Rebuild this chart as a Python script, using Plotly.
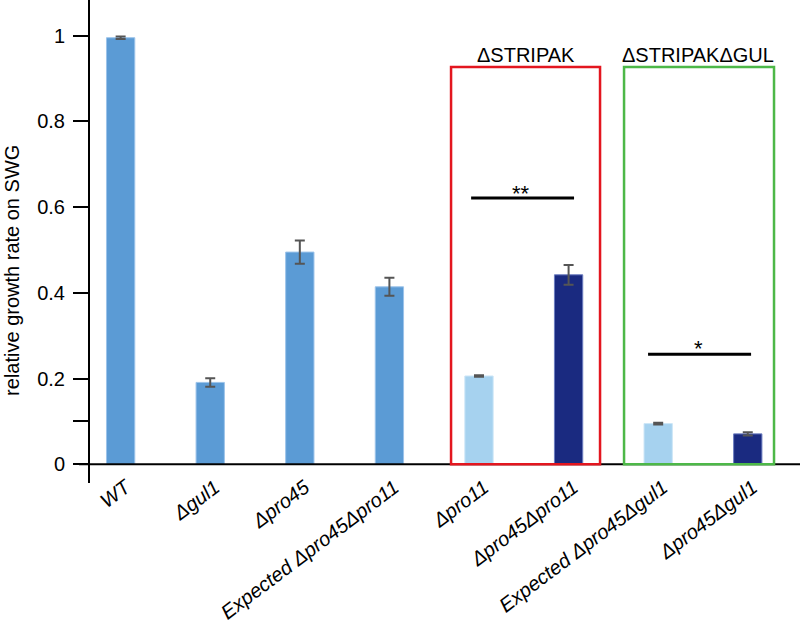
import plotly.graph_objects as go

categories = ["WT", "Δgul1", "Δpro45", "Expected Δpro45Δpro11", "Δpro11",
              "Δpro45Δpro11", "Expected Δpro45Δgul1", "Δpro45Δgul1"]
values = [0.995, 0.191, 0.495, 0.414, 0.206, 0.442, 0.095, 0.071]
errors = [0.003, 0.010, 0.027, 0.021, 0.002, 0.023, 0.002, 0.004]
bar_colors = ["#5B9BD5", "#5B9BD5", "#5B9BD5", "#5B9BD5",
              "#A6D2EF", "#1A2A80", "#A6D2EF", "#1A2A80"]
edge_colors = ["#9CC3EA", "#9CC3EA", "#9CC3EA", "#9CC3EA",
               "#CDE6F7", "#6C7DC0", "#CDE6F7", "#6C7DC0"]
y_tickvals = [0, 0.1, 0.2, 0.4, 0.6, 0.8, 1]
y_ticktext = ["0", "", "0.2", "0.4", "0.6", "0.8", "1"]

x_pos = list(range(len(categories)))
FONT = "Liberation Sans, Arial, sans-serif"

fig = go.Figure()
fig.add_trace(go.Bar(
    x=x_pos, y=values, width=0.316,
    marker=dict(color=bar_colors, line=dict(color=edge_colors, width=1)),
    error_y=dict(type="data", array=errors, visible=True,
                 color="#555555", thickness=2, width=5),
    showlegend=False,
))

shapes = []
shapes.append(dict(type="line", xref="paper", yref="y", x0=-0.0155, x1=1,
                   y0=0, y1=0, line=dict(color="black", width=2), layer="above"))
shapes.append(dict(type="rect", xref="x", yref="y", x0=3.688, x1=5.351,
                   y0=0, y1=0.927, line=dict(color="#E3161F", width=2.5)))
shapes.append(dict(type="rect", xref="x", yref="y", x0=5.619, x1=7.293,
                   y0=0, y1=0.927, line=dict(color="#4DB848", width=2.5)))
shapes.append(dict(type="line", xref="x", yref="y", x0=3.912, x1=5.061,
                   y0=0.621, y1=0.621, line=dict(color="black", width=3)))
shapes.append(dict(type="line", xref="x", yref="y", x0=5.887, x1=7.037,
                   y0=0.257, y1=0.257, line=dict(color="black", width=3)))

annotations = [
    dict(x=4.52, y=0.955, xref="x", yref="y", text="ΔSTRIPAK", showarrow=False,
         font=dict(family=FONT, size=20, color="black"), yanchor="middle"),
    dict(x=6.45, y=0.955, xref="x", yref="y", text="ΔSTRIPAKΔGUL", showarrow=False,
         font=dict(family=FONT, size=20, color="black"), yanchor="middle"),
    dict(x=4.464, y=0.621, xref="x", yref="y", text="**", showarrow=False,
         font=dict(family=FONT, size=22, color="black"), yanchor="bottom", yshift=-10),
    dict(x=6.45, y=0.257, xref="x", yref="y", text="*", showarrow=False,
         font=dict(family=FONT, size=22, color="black"), yanchor="bottom", yshift=-9),
    dict(x=-0.11, y=0.441, xref="paper", yref="paper", text="relative growth rate on SWG",
         showarrow=False, textangle=-90, xanchor="center", yanchor="middle",
         font=dict(family=FONT, size=20, color="black")),
]

fig.update_layout(
    width=800, height=624,
    margin=dict(l=90, r=0, t=0, b=141, pad=0),
    paper_bgcolor="white", plot_bgcolor="white",
    font=dict(family=FONT, size=20, color="black"),
    shapes=shapes, annotations=annotations,
    xaxis=dict(
        range=[-0.342, 7.583], tickvals=x_pos, ticktext=categories,
        tickangle=-37, showgrid=False, zeroline=False, showline=False,
        ticks="", automargin=False, ticklabelstandoff=-12, ticklabelshift=5,
        tickfont=dict(family=FONT, size=20, style="italic", color="black"),
    ),
    yaxis=dict(
        range=[-0.0436, 1.083], tickvals=y_tickvals, ticktext=y_ticktext,
        showgrid=False, zeroline=False, showline=True, linecolor="black",
        linewidth=2, ticks="outside", ticklen=15, tickwidth=2, tickcolor="black",
        automargin=False, ticklabelstandoff=4,
        tickfont=dict(family=FONT, size=20, color="black"),
    ),
)

fig.write_html("out.html", config={"displayModeBar": False},
               post_script="document.body.style.margin='0';")
